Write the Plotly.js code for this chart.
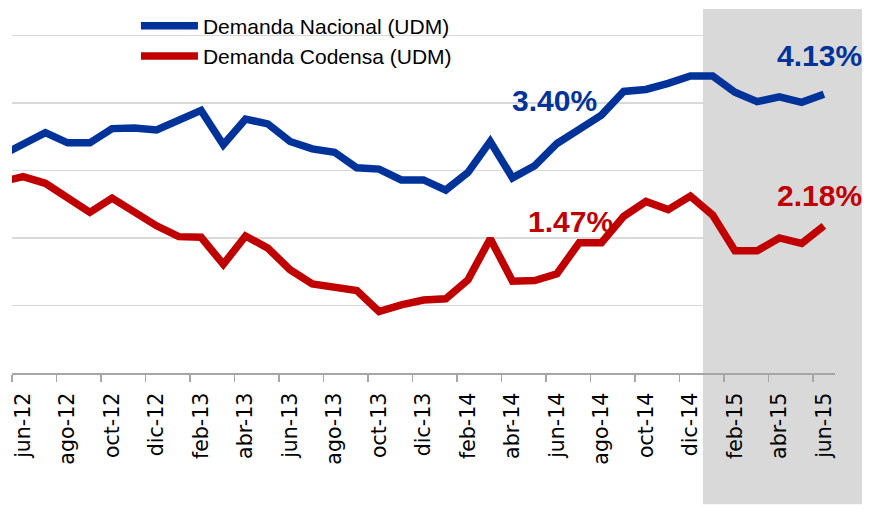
<!DOCTYPE html>
<html>
<head>
<meta charset="utf-8">
<script src="https://cdn.plot.ly/plotly-3.0.1.min.js"></script>
<style>html,body{margin:0;padding:0;background:#fff;}#chart{width:869px;height:509px;}</style>
</head>
<body>
<div id="chart"></div>
<script>
// Months: may-12 (partly off the left edge) through jun-15
var months = ["may-12","jun-12","jul-12","ago-12","sep-12","oct-12","nov-12","dic-12",
  "ene-13","feb-13","mar-13","abr-13","may-13","jun-13","jul-13","ago-13","sep-13","oct-13","nov-13","dic-13",
  "ene-14","feb-14","mar-14","abr-14","may-14","jun-14","jul-14","ago-14","sep-14","oct-14","nov-14","dic-14",
  "ene-15","feb-15","mar-15","abr-15","may-15","jun-15"];
var nacional = [3.22,3.39,3.56,3.41,3.41,3.62,3.63,3.60,
  3.75,3.89,3.38,3.76,3.69,3.43,3.32,3.27,3.04,3.02,2.86,2.86,
  2.71,2.97,3.43,2.89,3.07,3.40,3.61,3.82,4.17,4.20,4.29,4.40,
  4.40,4.16,4.02,4.09,4.01,4.13];
var codensa = [2.83,2.91,2.81,2.59,2.38,2.59,2.39,2.18,
  2.02,2.01,1.61,2.03,1.85,1.53,1.32,1.28,1.22,0.91,1.01,1.08,
  1.10,1.38,1.99,1.36,1.37,1.47,1.93,1.93,2.32,2.54,2.42,2.62,
  2.34,1.81,1.81,2.00,1.92,2.18];
var seriesNames = ["Demanda Nacional (UDM)", "Demanda Codensa (UDM)"];
var labelTexts = ["3.40%", "4.13%", "1.47%", "2.18%"];

// index positions: jun-12 = 0
var xs = months.map(function(m, i){ return i - 1; });
var labelIdx = [], labelTxt = [];
for (var i = 1; i < months.length; i += 2) { labelIdx.push(i - 1); labelTxt.push(months[i]); }
var bounds = labelIdx.map(function(v){ return v - 0.5; });

var blue = "#003399", red = "#C00000";

var traces = [
  {x: xs, y: nacional, type: "scatter", mode: "lines", name: seriesNames[0],
   line: {color: blue, width: 7.5, shape: "linear"}, hoverinfo: "skip"},
  {x: xs, y: codensa, type: "scatter", mode: "lines", name: seriesNames[1],
   line: {color: red, width: 7.5}, hoverinfo: "skip"}
];

var annFont = {family: "Liberation Sans, Arial, sans-serif", size: 30, weight: "bold"};
var layout = {
  width: 869, height: 509,
  margin: {l: 12, r: 34, t: 10, b: 135.5, pad: 0, autoexpand: false},
  paper_bgcolor: "#ffffff", plot_bgcolor: "#ffffff",
  showlegend: true,
  legend: {x: 0.1506, y: 0.989, yref: "container", xanchor: "left", yanchor: "top", bgcolor: "rgba(0,0,0,0)",
    font: {family: "Liberation Sans, Arial, sans-serif", size: 21, color: "#000"},
    itemwidth: 57, tracegroupgap: 0},
  xaxis: {range: [-0.5, 36.5], tickmode: "array", tickvals: labelIdx, ticktext: labelTxt,
    tickangle: -90, ticks: "", showgrid: false, zeroline: false, automargin: false,
    showline: true, linecolor: "#a6a6a6", linewidth: 1.5,
    tickfont: {family: "DejaVu Sans, sans-serif", size: 20.5, color: "#000"},
    ticklabelstandoff: 10,
    minor: {tickmode: "array", tickvals: bounds, ticks: "outside", ticklen: 7, tickcolor: "#a6a6a6", tickwidth: 1.5, showgrid: false}},
  yaxis: {range: [0, 5.377], tickmode: "array", tickvals: [1,2,3,4,5], showticklabels: false,
    ticks: "", showgrid: true, gridcolor: "#d9d9d9", gridwidth: 1.5, zeroline: false, showline: false},
  shapes: [
    {type: "rect", xref: "paper", yref: "paper", x0: 0.8396, x1: 1.0328, y0: -0.3618, y1: 1.0028,
     fillcolor: "#d9d9d9", line: {width: 0}, layer: "below"},
    {type: "rect", xref: "x", yref: "y", x0: 30.57, x1: 37, y0: 0, y1: 6,
     fillcolor: "#d9d9d9", line: {width: 0}, layer: "between"}
  ],
  annotations: [
    {x: 23.87, y: 4.03, xref: "x", yref: "y", text: labelTexts[0], showarrow: false, font: Object.assign({color: blue}, annFont)},
    {x: 35.79, y: 4.71, xref: "x", yref: "y", text: labelTexts[1], showarrow: false, font: Object.assign({color: blue}, annFont)},
    {x: 24.59, y: 2.24, xref: "x", yref: "y", text: labelTexts[2], showarrow: false, font: Object.assign({color: red}, annFont)},
    {x: 35.79, y: 2.63, xref: "x", yref: "y", text: labelTexts[3], showarrow: false, font: Object.assign({color: red}, annFont)}
  ]
};
Plotly.newPlot("chart", traces, layout, {displayModeBar: false, staticPlot: true});
</script>
</body>
</html>
